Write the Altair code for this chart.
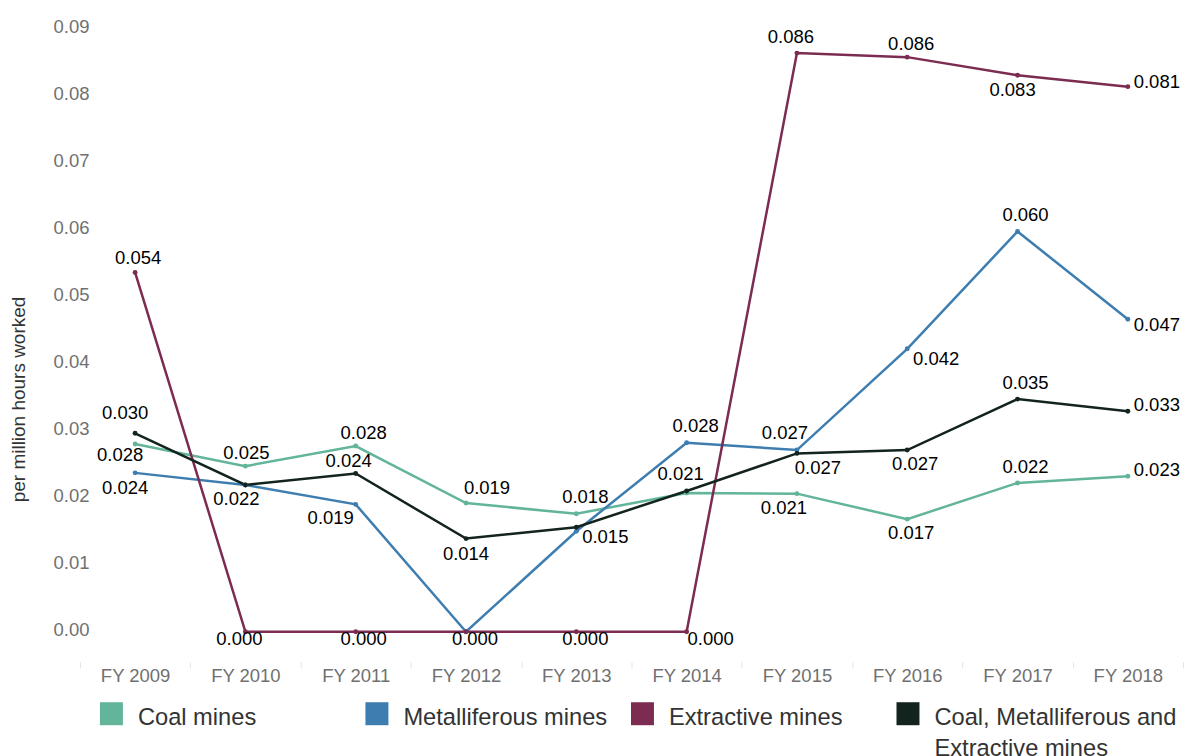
import altair as alt
import pandas as pd

# ---------------- data ----------------
years = ["FY 2009", "FY 2010", "FY 2011", "FY 2012", "FY 2013",
         "FY 2014", "FY 2015", "FY 2016", "FY 2017", "FY 2018"]

series_names = ["Coal mines", "Metalliferous mines", "Extractive mines",
                "Coal, Metalliferous and Extractive mines"]
legend_labels = ["Coal mines", "Metalliferous mines", "Extractive mines",
                 "Coal, Metalliferous and\nExtractive mines"]

coal = [0.0280, 0.0247, 0.0277, 0.0192, 0.0176, 0.0207, 0.0206, 0.0168, 0.0222, 0.0232]
metalliferous = [0.0237, 0.0219, 0.0190, 0.0, 0.0150, 0.0282, 0.0271, 0.0422, 0.0597, 0.0466]
extractive = [0.0536, 0.0, 0.0, 0.0, 0.0, 0.0, 0.0863, 0.0857, 0.0830, 0.0813]
combined = [0.0296, 0.0219, 0.0236, 0.0139, 0.0156, 0.0210, 0.0266, 0.0271, 0.0347, 0.0329]

y_ticks = [0.0, 0.01, 0.02, 0.03, 0.04, 0.05, 0.06, 0.07, 0.08, 0.09]

# ---------------- styling / label placement ----------------
colors = ["#62b49b", "#3d7db0", "#7c2b51", "#13231d"]

# pixel offsets of the value labels (None = label not shown)
label_dx = {
    "Coal mines": [-15, 1, 8, 21, 9, -6, -13, 4, 8, 29],
    "Metalliferous mines": [-10, -9, -25, None, 29, 9, -12, 29, 8, 29],
    "Extractive mines": [3, -6, 8, 9, 9, 24, -6, 4, -5, 29],
    "Coal, Metalliferous and Extractive mines": [-10, None, -7, 0, None, None, 21, 8, 8, 29],
}
label_dy = {
    "Coal mines": [11, -13, -13, -15, -17, -19, 14, 14, -16, -6],
    "Metalliferous mines": [15, 14, 14, None, 6, -17, -17, 10, -16, 6],
    "Extractive mines": [-14, 7, 7, 7, 7, 7, -16, -13, 15, -5],
    "Coal, Metalliferous and Extractive mines": [-20, None, -13, 15, None, None, 15, 14, -16, -6],
}

values = {
    "Coal mines": coal,
    "Metalliferous mines": metalliferous,
    "Extractive mines": extractive,
    "Coal, Metalliferous and Extractive mines": combined,
}

rows = []
for s in series_names:
    for i, yr in enumerate(years):
        dx = label_dx[s][i]
        dy = label_dy[s][i]
        rows.append({
            "year": yr,
            "series": s,
            "value": values[s][i],
            "dx": dx if dx is not None else 0,
            "dy": dy if dy is not None else 0,
            "show": dx is not None,
        })
df = pd.DataFrame(rows)

FONT = "Liberation Sans"

color_scale = alt.Scale(domain=series_names, range=colors)

x_enc = alt.X(
    "year:N", sort=years, bandPosition=0.5,
    scale=alt.Scale(type="band", paddingInner=0, paddingOuter=0),
    axis=alt.Axis(title=None, labelAngle=0, domain=False, ticks=True,
                  tickBand="extent", tickColor="#e4e4e4", tickSize=6,
                  labelPadding=-1, labelFontSize=18.5, labelColor="#707070",
                  labelFont=FONT),
)
y_enc = alt.Y(
    "value:Q",
    scale=alt.Scale(domain=[-0.00447, 0.09134], nice=False, zero=False),
    axis=alt.Axis(values=y_ticks, format=".2f", grid=False, domain=False,
                  ticks=False, offset=-14, labelPadding=5, labelFontSize=18.5,
                  labelOffset=-2,
                  labelColor="#707070", labelFont=FONT,
                  title="per million hours worked", titleX=-75, titleY=380,
                  titleAngle=-90, titleFontSize=19, titleFontWeight="normal",
                  titleColor="#333333", titleFont=FONT, titleAlign="center",
                  titleBaseline="middle"),
)
color_enc = alt.Color("series:N", scale=color_scale, legend=None)

base = alt.Chart(df).encode(x=x_enc, y=y_enc, color=color_enc)

lines = base.mark_line(strokeWidth=2.5).encode(detail="series:N")
points = base.mark_circle(size=24, opacity=1)
texts = base.transform_filter("datum.show").mark_text(
    fontSize=18.5, font=FONT, color="#000000",
    dx={"expr": "datum.dx"}, dy={"expr": "datum.dy"},
).encode(text=alt.Text("value:Q", format=".3f"), color=alt.value("#000000"))

main = alt.layer(lines, points, texts).properties(width=1104, height=643)

# ---------------- legend row ----------------
leg_df = pd.DataFrame({"series": series_names, "label": legend_labels})
leg_base = alt.Chart(leg_df).encode(
    x=alt.X("series:N", sort=series_names, bandPosition=0,
            scale=alt.Scale(type="band", paddingInner=0, paddingOuter=0),
            axis=None)
)
leg_sq = leg_base.mark_square(size=529, opacity=1, xOffset=31.5, yOffset=-9).encode(
    color=alt.Color("series:N", scale=color_scale, legend=None)
)
leg_tx = leg_base.mark_text(
    align="left", baseline="alphabetic", dx=58, dy=2, fontSize=23.7,
    font=FONT, color="#333333", lineBreak="\n", lineHeight=31,
).encode(text="label:N")
legend = alt.layer(leg_sq, leg_tx).properties(width=1063, height=38)

chart = alt.vconcat(main, legend, spacing=16).properties(
    padding={"left": 2, "top": 8, "right": 0, "bottom": 0}
).configure(font=FONT).configure_view(stroke=None, strokeWidth=0)

chart.save("out.html", embed_options={"renderer": "svg", "actions": False})
